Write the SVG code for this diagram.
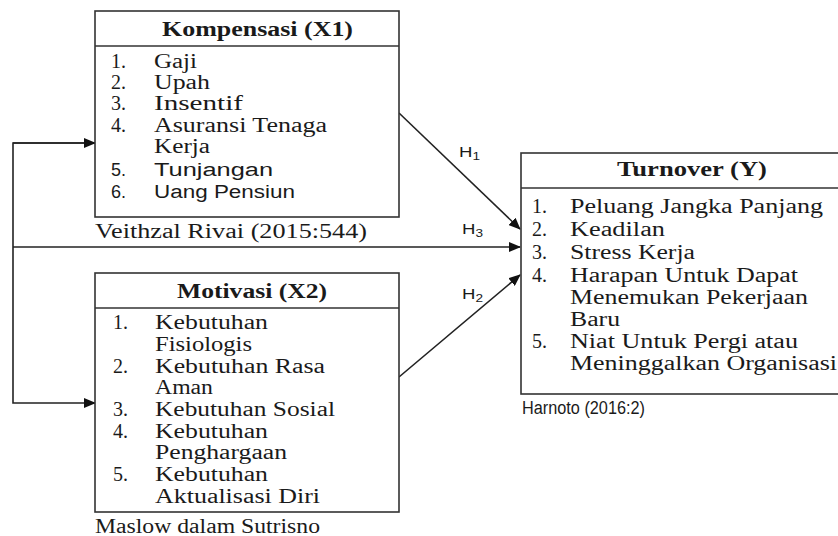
<svg xmlns="http://www.w3.org/2000/svg" width="838" height="536" viewBox="0 0 838 536">
<style>
.box{fill:#fff;stroke:#333;stroke-width:1.6}
.sep{stroke:#333;stroke-width:1.6}
.t{font-family:"Liberation Serif","Times New Roman",serif;font-size:20px;fill:#1a1a1a}
.b{font-weight:bold}
.s{font-family:"Liberation Sans",Arial,sans-serif;font-size:18px;fill:#1a1a1a}
.h{font-family:"Liberation Sans",Arial,sans-serif;font-size:15px;fill:#1a1a1a}
.c{fill:none;stroke:#222;stroke-width:1.6}
</style>
<defs>
<marker id="ah" markerWidth="12" markerHeight="10" refX="11" refY="5" orient="auto" markerUnits="userSpaceOnUse">
<path d="M0,0 L12,5 L0,10 Z" fill="#111"/>
</marker>
</defs>
<rect width="838" height="536" fill="#fff"/>

<g id="connectors">
<path class="c" d="M95,143 H13 V403 H95" marker-end="url(#ah)"/>
<path class="c" d="M13,143 H95" marker-end="url(#ah)"/>
<path class="c" d="M13,247 H520" marker-end="url(#ah)"/>
<path class="c" d="M399,113 L520,229" marker-end="url(#ah)"/>
<path class="c" d="M399,377 L520,275" marker-end="url(#ah)"/>
<text class="h" x="459" y="157" textLength="21" lengthAdjust="spacingAndGlyphs">H<tspan font-size="11" dy="3">1</tspan></text>
<text class="h" x="462" y="234" textLength="21" lengthAdjust="spacingAndGlyphs">H<tspan font-size="11" dy="3">3</tspan></text>
<text class="h" x="462" y="299" textLength="21" lengthAdjust="spacingAndGlyphs">H<tspan font-size="11" dy="3">2</tspan></text>
</g>

<g id="x1">
<rect class="box" x="95" y="11" width="304" height="206"/>
<line class="sep" x1="95" y1="46" x2="399" y2="46"/>
<text class="t b" x="162" y="36" textLength="191" lengthAdjust="spacingAndGlyphs">Kompensasi (X1)</text>
<text class="t" x="111" y="68">1.</text><text class="t" x="154" y="68" textLength="43" lengthAdjust="spacingAndGlyphs">Gaji</text>
<text class="t" x="111" y="89">2.</text><text class="t" x="154" y="89" textLength="56" lengthAdjust="spacingAndGlyphs">Upah</text>
<text class="t" x="111" y="110">3.</text><text class="t" x="154" y="110" textLength="89" lengthAdjust="spacingAndGlyphs">Insentif</text>
<text class="t" x="111" y="132">4.</text><text class="t" x="154" y="132" textLength="173" lengthAdjust="spacingAndGlyphs">Asuransi Tenaga</text>
<text class="t" x="154" y="153" textLength="56" lengthAdjust="spacingAndGlyphs">Kerja</text>
<text class="s" x="111" y="176">5.</text><text class="s" x="154" y="176" textLength="119" lengthAdjust="spacingAndGlyphs">Tunjangan</text>
<text class="s" x="111" y="198">6.</text><text class="s" x="154" y="198" textLength="141" lengthAdjust="spacingAndGlyphs">Uang Pensiun</text>
<text class="t" x="95" y="238" textLength="272" lengthAdjust="spacingAndGlyphs">Veithzal Rivai (2015:544)</text>
</g>

<g id="x2">
<rect class="box" x="95" y="273" width="304" height="239"/>
<line class="sep" x1="95" y1="308" x2="399" y2="308"/>
<text class="t b" x="177" y="298" textLength="150" lengthAdjust="spacingAndGlyphs">Motivasi (X2)</text>
<text class="t" x="113" y="329">1.</text><text class="t" x="155" y="329" textLength="113" lengthAdjust="spacingAndGlyphs">Kebutuhan</text>
<text class="t" x="155" y="351" textLength="97" lengthAdjust="spacingAndGlyphs">Fisiologis</text>
<text class="t" x="113" y="373">2.</text><text class="t" x="155" y="373" textLength="170" lengthAdjust="spacingAndGlyphs">Kebutuhan Rasa</text>
<text class="t" x="155" y="394" textLength="58" lengthAdjust="spacingAndGlyphs">Aman</text>
<text class="t" x="113" y="416">3.</text><text class="t" x="155" y="416" textLength="180" lengthAdjust="spacingAndGlyphs">Kebutuhan Sosial</text>
<text class="t" x="113" y="438">4.</text><text class="t" x="155" y="438" textLength="113" lengthAdjust="spacingAndGlyphs">Kebutuhan</text>
<text class="t" x="155" y="459" textLength="132" lengthAdjust="spacingAndGlyphs">Penghargaan</text>
<text class="t" x="113" y="481">5.</text><text class="t" x="155" y="481" textLength="113" lengthAdjust="spacingAndGlyphs">Kebutuhan</text>
<text class="t" x="155" y="503" textLength="165" lengthAdjust="spacingAndGlyphs">Aktualisasi Diri</text>
<text class="t" x="95" y="533" textLength="225" lengthAdjust="spacingAndGlyphs">Maslow dalam Sutrisno</text>
</g>

<g id="y">
<rect class="box" x="521" y="153" width="330" height="241"/>
<line class="sep" x1="521" y1="188" x2="851" y2="188"/>
<text class="t b" x="617" y="176" textLength="150" lengthAdjust="spacingAndGlyphs">Turnover (Y)</text>
<text class="t" x="532" y="213">1.</text><text class="t" x="570" y="213" textLength="253" lengthAdjust="spacingAndGlyphs">Peluang Jangka Panjang</text>
<text class="t" x="532" y="236">2.</text><text class="t" x="570" y="236" textLength="95" lengthAdjust="spacingAndGlyphs">Keadilan</text>
<text class="t" x="532" y="259">3.</text><text class="t" x="570" y="259" textLength="125" lengthAdjust="spacingAndGlyphs">Stress Kerja</text>
<text class="t" x="532" y="282">4.</text><text class="t" x="570" y="282" textLength="228" lengthAdjust="spacingAndGlyphs">Harapan Untuk Dapat</text>
<text class="t" x="570" y="304" textLength="238" lengthAdjust="spacingAndGlyphs">Menemukan Pekerjaan</text>
<text class="t" x="570" y="326" textLength="50" lengthAdjust="spacingAndGlyphs">Baru</text>
<text class="t" x="532" y="348">5.</text><text class="t" x="570" y="348" textLength="228" lengthAdjust="spacingAndGlyphs">Niat Untuk Pergi atau</text>
<text class="t" x="570" y="370" textLength="267" lengthAdjust="spacingAndGlyphs">Meninggalkan Organisasi</text>
<text class="s" x="522" y="414" font-size="16" textLength="123" lengthAdjust="spacingAndGlyphs">Harnoto (2016:2)</text>
</g>
</svg>
